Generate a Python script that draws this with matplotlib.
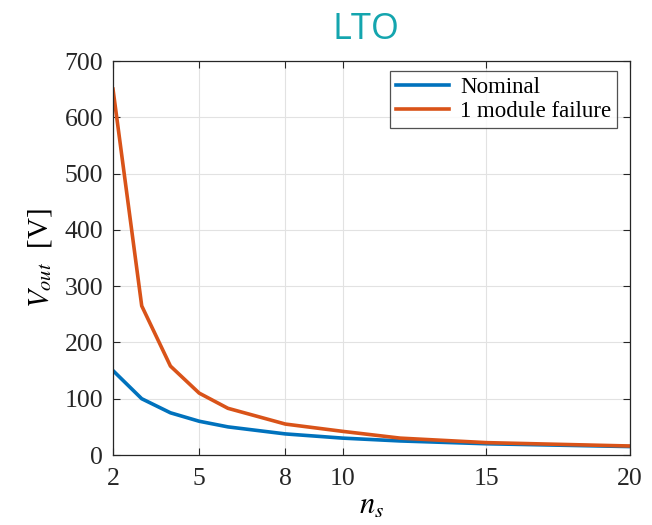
import matplotlib
matplotlib.use("Agg")
import matplotlib.pyplot as plt

# --- podaci očitani sa slike ----------------------------------------------
ns = [2, 3, 4, 5, 6, 8, 10, 12, 15, 20]
v_nominal = [150, 100, 75, 60, 50, 37.5, 30, 25, 20, 15]
v_failure = [650, 265, 158, 110, 83, 55, 42, 30, 22, 16]
xticks = [2, 5, 8, 10, 15, 20]
yticks = [0, 100, 200, 300, 400, 500, 600, 700]

plt.rcParams["font.family"] = ["Liberation Serif", "DejaVu Serif"]
plt.rcParams["mathtext.fontset"] = "stix"

fig = plt.figure(figsize=(6.52, 5.25), dpi=100)
ax = fig.add_axes([0.1733, 0.1333, 0.793, 0.7505])

ax.plot(ns, v_nominal, color="#0072BD", lw=2.6, label="Nominal")
ax.plot(ns, v_failure, color="#D95319", lw=2.6, label="1 module failure")

ax.set_xlim(2, 20)
ax.set_ylim(0, 700)
ax.set_xticks(xticks)
ax.set_yticks(yticks)
ax.grid(True, color="#e2e2e2", lw=0.8)
ax.set_axisbelow(True)
ax.tick_params(direction="in", top=True, right=True, labelsize=18.5,
               length=5, width=0.8, colors="#262626")
ax.tick_params(axis="x", pad=9)
ax.tick_params(axis="y", pad=7)
for s in ax.spines.values():
    s.set_color("#262626")
    s.set_linewidth(0.9)

ax.set_xlabel(r"$n_s$", fontsize=22, labelpad=2)
ax.set_ylabel(r"$V_{out}$  [V]", fontsize=21, labelpad=8)
fig.text(0.561, 0.926, "LTO", fontsize=26, color="#14A5AE",
         family="Open Sans", ha="center", va="baseline")

leg = ax.legend(loc="upper right", bbox_to_anchor=(0.975, 0.975),
                fontsize=16.5, frameon=True, fancybox=False,
                edgecolor="#262626", handlelength=2.3, borderpad=0.25,
                labelspacing=0.15, handletextpad=0.5, borderaxespad=0.0)
leg.get_frame().set_linewidth(0.9)

fig.savefig("out.png", dpi=100)
